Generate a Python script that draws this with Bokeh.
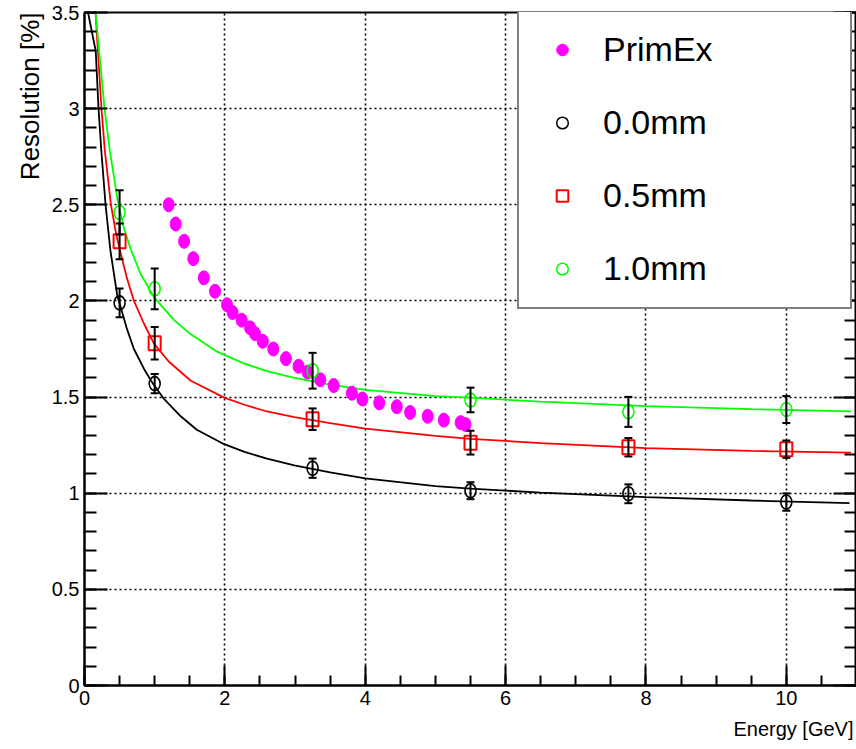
from bokeh.plotting import figure
from bokeh.models import (ColumnDataSource, Whisker, TeeHead, Legend, LegendItem, Title,
                          LinearAxis, SingleIntervalTicker, Range1d, CustomJSTickFormatter)
from bokeh.embed import file_html
from bokeh.resources import INLINE

# ---------------- data ----------------
primex_x = [1.20, 1.30, 1.42, 1.55, 1.70, 1.86, 2.03, 2.11, 2.24, 2.36, 2.43, 2.54, 2.69,
            2.87, 3.05, 3.18, 3.36, 3.55, 3.81, 3.96, 4.20, 4.45, 4.64, 4.89, 5.12, 5.36, 5.43]
primex_y = [2.50, 2.40, 2.31, 2.22, 2.12, 2.05, 1.98, 1.94, 1.90, 1.86, 1.83, 1.79, 1.75,
            1.70, 1.66, 1.63, 1.59, 1.56, 1.52, 1.49, 1.47, 1.45, 1.42, 1.40, 1.38, 1.367, 1.357]

energy = [0.5, 1.0, 3.25, 5.5, 7.75, 10.0]
res_00 = [1.99, 1.57, 1.13, 1.013, 0.997, 0.954]
err_00 = [0.075, 0.05, 0.05, 0.044, 0.049, 0.045]
res_05 = [2.31, 1.78, 1.385, 1.263, 1.239, 1.229]
err_05 = [0.093, 0.084, 0.056, 0.062, 0.048, 0.045]
res_10 = [2.46, 2.063, 1.637, 1.485, 1.423, 1.435]
err_10 = [0.115, 0.106, 0.093, 0.064, 0.078, 0.070]

fit00_x = [0.05, 0.16, 0.20, 0.24, 0.30, 0.37, 0.466, 0.60, 0.704, 0.85, 0.966, 1.133, 1.371,
           1.60, 1.99, 2.28, 2.60, 2.99, 3.50, 4.00, 5.00, 5.50, 6.50, 8.00, 9.50, 10.90]
fit00_y = [3.50, 3.30, 3.00, 2.78, 2.50, 2.26, 2.03, 1.86, 1.75, 1.645, 1.575, 1.49, 1.40,
           1.33, 1.255, 1.215, 1.18, 1.145, 1.108, 1.077, 1.037, 1.024, 1.003, 0.980, 0.962, 0.948]
fit05_x = [0.157, 0.242, 0.29, 0.377, 0.45, 0.514, 0.60, 0.704, 0.85, 0.99, 1.20, 1.514, 1.99,
           2.28, 2.60, 2.99, 3.50, 4.00, 5.00, 5.50, 6.50, 8.00, 9.50, 10.92]
fit05_y = [3.50, 3.00, 2.78, 2.50, 2.35, 2.25, 2.125, 2.00, 1.88, 1.778, 1.685, 1.585, 1.497,
           1.46, 1.425, 1.396, 1.365, 1.336, 1.298, 1.283, 1.261, 1.235, 1.220, 1.211]
fit10_x = [0.157, 0.286, 0.361, 0.47, 0.56, 0.657, 0.80, 0.99, 1.276, 1.50, 1.894, 2.28, 2.60,
           2.99, 3.50, 4.00, 5.00, 5.50, 6.50, 8.00, 9.50, 10.92]
fit10_y = [3.50, 3.00, 2.78, 2.53, 2.38, 2.27, 2.14, 2.02, 1.90, 1.83, 1.735, 1.674, 1.635,
           1.600, 1.565, 1.537, 1.505, 1.497, 1.476, 1.453, 1.437, 1.426]

series_labels = ["PrimEx", "0.0mm", "0.5mm", "1.0mm"]
y_tick_values = [0, 0.5, 1, 1.5, 2, 2.5, 3, 3.5]
y_tick_labels = ["0", "0.5", "1", "1.5", "2", "2.5", "3", "3.5"]
x_title = "Energy [GeV]"
y_title = "Resolution [%]"

MAGENTA = "#ff00ff"
RED = "#ff0000"
GREEN = "#00ff00"
FONT = "Liberation Sans"

# ---------------- figure ----------------
p = figure(width=856, height=749, x_range=Range1d(0, 11), y_range=Range1d(0, 3.5),
           output_backend="svg", toolbar_location=None, title=None,
           min_border_left=84, min_border_right=0, min_border_top=12, min_border_bottom=64)
p.background_fill_color = "white"
p.border_fill_color = "white"
p.outline_line_color = "black"
p.outline_line_width = 2

xt = SingleIntervalTicker(interval=2, num_minor_ticks=4)
yt = SingleIntervalTicker(interval=0.5, num_minor_ticks=5)
p.xaxis.ticker = xt
p.yaxis.ticker = yt
p.xgrid.ticker = xt
p.ygrid.ticker = yt

for g in (p.xgrid, p.ygrid):
    g.grid_line_color = "black"
    g.grid_line_dash = "2 3"
    g.grid_line_width = 1.6

xa = p.xaxis[0]
ya = p.yaxis[0]
for ax in (xa, ya):
    ax.axis_line_width = 2
    ax.major_tick_out = 0
    ax.minor_tick_out = 0
    ax.major_tick_line_width = 2
    ax.minor_tick_line_width = 2
    ax.major_label_text_font = FONT
    ax.major_label_text_font_size = "20px"
    ax.major_label_text_color = "black"

xa.major_tick_in = 20
xa.minor_tick_in = 10
xa.major_label_standoff = 5

ya.major_tick_in = 23
ya.minor_tick_in = 12
ya.major_label_standoff = 5
ya.major_label_overrides = dict(zip(y_tick_values, y_tick_labels))

ra = LinearAxis(ticker=yt, formatter=CustomJSTickFormatter(code="return ''"),
                major_label_standoff=0,
                major_tick_in=23, major_tick_out=0, minor_tick_in=12, minor_tick_out=0,
                axis_line_width=2, major_tick_line_width=2, minor_tick_line_width=2)
p.add_layout(ra, "right")

# axis titles placed at the far end of each axis, as in the reference
p.add_layout(Title(text=x_title, align="right", offset=3, standoff=16, text_font=FONT,
                   text_font_size="20px", text_font_style="normal", text_color="black"),
             "below")
p.add_layout(Title(text=y_title, align="right", offset=0, standoff=8, text_font=FONT,
                   text_font_size="26px", text_font_style="normal", text_color="black"),
             "left")

# ---------------- fit curves ----------------
p.line(fit00_x, fit00_y, line_color="black", line_width=1.8)
p.line(fit05_x, fit05_y, line_color=RED, line_width=1.8)
p.line(fit10_x, fit10_y, line_color=GREEN, line_width=1.8)

# ---------------- PrimEx ----------------
src_p = ColumnDataSource(dict(x=primex_x, y=primex_y))
p.ellipse("x", "y", width=11, height=14, width_units="screen", height_units="screen",
          fill_color=MAGENTA, line_color=MAGENTA, source=src_p)

# ---------------- simulated series with error bars ----------------
def make_src(vals, errs):
    return ColumnDataSource(dict(
        x=energy, y=vals,
        lower=[v - e for v, e in zip(vals, errs)],
        upper=[v + e for v, e in zip(vals, errs)]))

src00 = make_src(res_00, err_00)
src05 = make_src(res_05, err_05)
src10 = make_src(res_10, err_10)

for s in (src00, src05, src10):
    w = Whisker(source=s, base="x", lower="lower", upper="upper", dimension="height",
                line_color="black", line_width=2, level="glyph",
                upper_head=TeeHead(size=8, line_color="black", line_width=2),
                lower_head=TeeHead(size=8, line_color="black", line_width=2))
    p.add_layout(w)

p.ellipse("x", "y", width=11, height=14, width_units="screen", height_units="screen",
          fill_color=None, line_color="black", line_width=1.6, source=src00)
p.rect("x", "y", width=12, height=14, width_units="screen", height_units="screen",
       fill_color=None, line_color=RED, line_width=2, source=src05)
p.ellipse("x", "y", width=11, height=14, width_units="screen", height_units="screen",
          fill_color=None, line_color=GREEN, line_width=1.6, source=src10)

# ---------------- legend (hidden scatter proxies of the same data) ----------------
lp = p.scatter("x", "y", source=src_p, marker="circle", size=11, fill_color=MAGENTA,
               line_color=MAGENTA, visible=False)
l0 = p.scatter("x", "y", source=src00, marker="circle", size=11, fill_color=None,
               line_color="black", line_width=1.5, visible=False)
l5 = p.scatter("x", "y", source=src05, marker="square", size=11, fill_color=None,
               line_color=RED, line_width=2, visible=False)
l1 = p.scatter("x", "y", source=src10, marker="circle", size=11, fill_color=None,
               line_color=GREEN, line_width=1.5, visible=False)

legend = Legend(items=[LegendItem(label=series_labels[0], renderers=[lp]),
                       LegendItem(label=series_labels[1], renderers=[l0]),
                       LegendItem(label=series_labels[2], renderers=[l5]),
                       LegendItem(label=series_labels[3], renderers=[l1])],
                location=(433, 376), orientation="vertical", margin=0,
                padding=19, spacing=33, glyph_width=48, glyph_height=29,
                label_standoff=17, label_width=228, label_height=40,
                border_line_color="black", border_line_width=2,
                background_fill_color="white", background_fill_alpha=1.0,
                label_text_font=FONT, label_text_font_size="34px",
                label_text_color="black")
p.add_layout(legend)

open("out.html", "w").write(file_html(p, INLINE))
